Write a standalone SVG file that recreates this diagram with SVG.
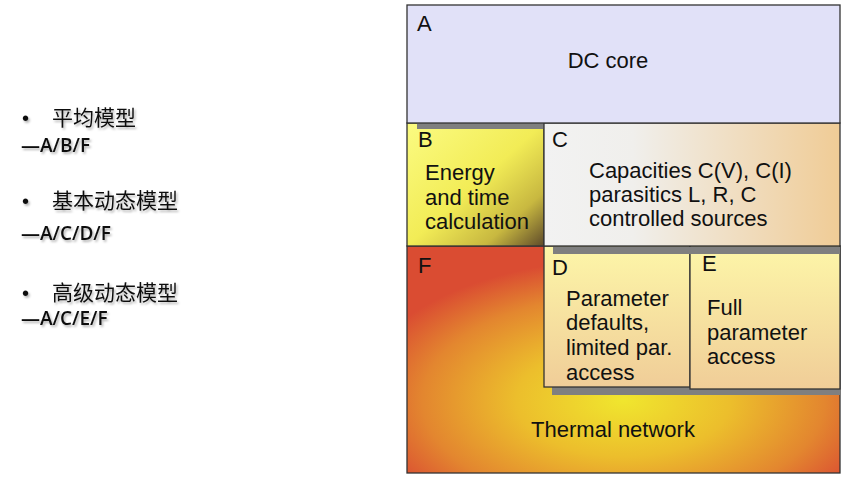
<svg xmlns="http://www.w3.org/2000/svg" width="843" height="478" viewBox="0 0 843 478">
<defs>
<radialGradient id="gF" cx="0.5" cy="0.68" r="0.62" fx="0.5" fy="0.68">
<stop offset="0" stop-color="#f0e62e"/>
<stop offset="0.4" stop-color="#ecbe2c"/>
<stop offset="0.75" stop-color="#e3862f"/>
<stop offset="1" stop-color="#da4c32"/>
</radialGradient>
<linearGradient id="gB" x1="0" y1="0" x2="1" y2="1">
<stop offset="0" stop-color="#fbfb82"/>
<stop offset="0.5" stop-color="#f2ec56"/>
<stop offset="0.78" stop-color="#c8b840"/>
<stop offset="1" stop-color="#5e4a2a"/>
</linearGradient>
<linearGradient id="gC" x1="0" y1="0" x2="1" y2="0">
<stop offset="0" stop-color="#f2f2f2"/>
<stop offset="0.3" stop-color="#f0efec"/>
<stop offset="1" stop-color="#f0cc96"/>
</linearGradient>
<linearGradient id="gDE" x1="0" y1="0" x2="0" y2="1">
<stop offset="0" stop-color="#fdf6a8"/>
<stop offset="1" stop-color="#f0cd98"/>
</linearGradient>
<filter id="ts" x="-10%" y="-30%" width="130%" height="180%">
<feDropShadow dx="1.5" dy="2" stdDeviation="1.2" flood-color="#000" flood-opacity="0.3"/>
</filter>
<style>
.box{stroke:#333;stroke-width:1.3}
.sh{fill:#7f7f7f}
.t{font-family:"Liberation Sans",Arial,sans-serif;font-size:22px;fill:#111}
.cn{font-family:"Noto Sans CJK SC","Noto Sans",sans-serif;font-size:21px;fill:#111}
.la{font-family:"Open Sans","Noto Sans",sans-serif;font-size:19px;font-weight:600;fill:#111}
.bul{font-family:"Liberation Sans",Arial,sans-serif;font-size:20px;fill:#111}
</style>
</defs>
<rect width="843" height="478" fill="#fff"/>

<g id="legend" filter="url(#ts)">
<text class="bul" x="22" y="125">•</text>
<text class="cn" x="52" y="125">平均模型</text>
<text class="la" x="21" y="152">—A/B/F</text>
<text class="bul" x="22" y="208">•</text>
<text class="cn" x="52" y="208">基本动态模型</text>
<text class="la" x="21" y="240">—A/C/D/F</text>
<text class="bul" x="22" y="300">•</text>
<text class="cn" x="52" y="300">高级动态模型</text>
<text class="la" x="21" y="325">—A/C/E/F</text>
</g>

<g id="F">
<rect class="box" x="407" y="246" width="433" height="227" fill="url(#gF)"/>
<text class="t" x="418" y="273">F</text>
<text class="t" x="613" y="437" text-anchor="middle">Thermal network</text>
</g>
<rect class="sh" x="552" y="387" width="288" height="8"/>
<g id="D">
<rect class="box" x="544" y="246" width="146" height="141" fill="url(#gDE)"/>
<text class="t" x="552" y="275">D</text>
<text class="t" x="566" y="306">Parameter</text>
<text class="t" x="566" y="330">defaults,</text>
<text class="t" x="566" y="355">limited par.</text>
<text class="t" x="566" y="380">access</text>
</g>
<g id="E">
<rect class="box" x="690" y="246" width="150" height="143" fill="url(#gDE)"/>
<text class="t" x="702" y="271">E</text>
<text class="t" x="707" y="315">Full</text>
<text class="t" x="707" y="340">parameter</text>
<text class="t" x="707" y="364">access</text>
</g>
<rect class="sh" x="553" y="247" width="287" height="7"/>
<g id="B">
<rect class="box" x="407" y="123" width="137" height="123" fill="url(#gB)"/>
<text class="t" x="418" y="147">B</text>
<text class="t" x="425" y="180">Energy</text>
<text class="t" x="425" y="205">and time</text>
<text class="t" x="425" y="229">calculation</text>
</g>
<rect class="sh" x="417" y="123" width="127" height="6"/>
<g id="C">
<rect class="box" x="544" y="123" width="296" height="123" fill="url(#gC)"/>
<text class="t" x="552" y="147">C</text>
<text class="t" x="589" y="178">Capacities C(V), C(I)</text>
<text class="t" x="589" y="202">parasitics L, R, C</text>
<text class="t" x="589" y="226">controlled sources</text>
</g>
<g id="A">
<rect class="box" x="407" y="5" width="433" height="118" fill="#e1e1f8"/>
<text class="t" x="417" y="31">A</text>
<text class="t" x="608" y="68" text-anchor="middle">DC core</text>
</g>
<g id="connectors"/>
</svg>
